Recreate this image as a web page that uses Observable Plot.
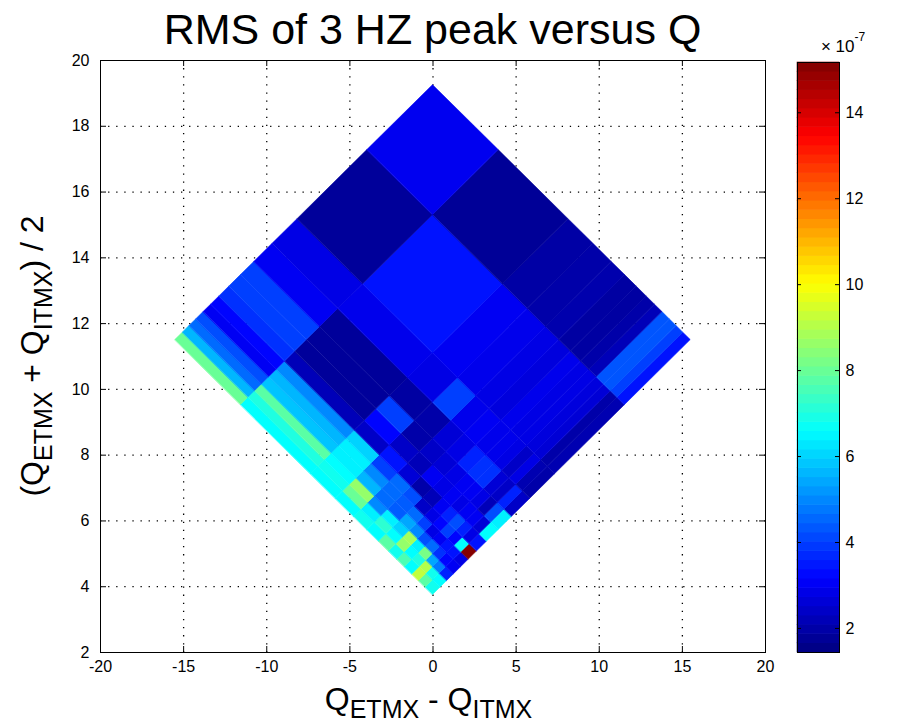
<!DOCTYPE html>
<html>
<head>
<meta charset="utf-8">
<script src="https://cdn.jsdelivr.net/npm/d3@7"></script>
<script src="https://cdn.jsdelivr.net/npm/@observablehq/plot@0.6"></script>
<style>
  body { margin: 0; background: #fff; }
  #chart { position: relative; width: 906px; height: 728px; font-family: "Liberation Sans", Arial, sans-serif; }
  #chart > svg { position: absolute; top: 0; }
</style>
</head>
<body>
<div id="chart"></div>
<script>
// Q grid edges (shared by ETMX and ITMX)
const qEdges = [3.75, 4.2, 4.6, 5.0, 5.45, 5.9, 6.4, 7.0, 7.7, 8.5, 9.6, 11.1, 15.3, 19.25];

// RMS of the 3 Hz peak (x 1e-7); one array per Q_ETMX bin, entries run over Q_ITMX bins
const rmsE00 = [6.8, 7.8, 9.2, 6.6, 7.6, 6.8, 7.8, 6.6, 6.8, 6.6, 6.6, 6.6, 8.0];
const rmsE01 = [6.6, 6.8, 9.0, 7.0, 6.6, 8.6, 6.6, 7.2, 6.4, 8.0, 6.8, 7.0, 5.6];
const rmsE02 = [3.6, 4.8, 5.4, 8.2, 6.4, 8.8, 6.0, 6.4, 5.0, 8.6, 6.6, 7.8, 4.6];
const rmsE03 = [3.0, 3.2, 3.8, 4.6, 4.2, 5.0, 5.4, 4.4, 4.6, 5.6, 6.4, 5.8, 4.2];
const rmsE04 = [2.8, 3.4, 3.4, 3.0, 2.8, 4.0, 4.6, 4.4, 4.6, 5.0, 6.4, 5.6, 3.0];
const rmsE05 = [15.1, 6.6, 3.2, 4.0, 3.2, 2.8, 2.4, 4.2, 4.6, 4.0, 6.0, 5.0, 3.2];
const rmsE06 = [3.4, 2.8, 3.6, 4.2, 3.6, 3.0, 2.2, 2.0, 2.6, 3.4, 2.4, 2.2, 3.8];
const rmsE07 = [6.6, 2.6, 3.0, 3.0, 2.8, 3.0, 2.8, 3.0, 2.2, 2.4, 3.2, 1.8, 4.0];
const rmsE08 = [6.4, 4.2, 2.2, 2.8, 3.0, 3.0, 2.8, 2.6, 2.4, 2.0, 4.0, 1.8, 4.0];
const rmsE09 = [2.4, 3.6, 2.4, 2.6, 3.8, 3.8, 3.6, 2.8, 2.6, 2.0, 1.9, 1.8, 3.0];
const rmsE10 = [2.0, 2.1, 2.8, 2.4, 2.8, 2.9, 2.9, 3.0, 2.9, 4.0, 2.8, 2.9, 2.8];
const rmsE11 = [2.1, 2.0, 2.6, 2.7, 2.8, 2.8, 2.9, 2.7, 2.8, 2.9, 3.0, 3.4, 1.8];
const rmsE12 = [3.4, 4.0, 4.3, 4.3, 2.2, 2.0, 1.9, 1.9, 2.05, 2.0, 1.95, 1.75, 2.95];
const rmsRows = [rmsE00, rmsE01, rmsE02, rmsE03, rmsE04, rmsE05, rmsE06,
                 rmsE07, rmsE08, rmsE09, rmsE10, rmsE11, rmsE12];

// axes and colour bar
const xTicks = [-20, -15, -10, -5, 0, 5, 10, 15, 20];
const yTicks = [2, 4, 6, 8, 10, 12, 14, 16, 18, 20];
const xGrid = [-15, -10, -5, 0, 5, 10, 15];
const yGrid = [4, 6, 8, 10, 12, 14, 16, 18];
const colorTicks = [2, 4, 6, 8, 10, 12, 14];
const colorDomain = [1.44, 15.17];
const colorLevels = 64;

// MATLAB-style jet colormap
function jet(t) {
  const c = v => Math.max(0, Math.min(1, v));
  const r = c(1.5 - Math.abs(4 * t - 3));
  const g = c(1.5 - Math.abs(4 * t - 2));
  const b = c(1.5 - Math.abs(4 * t - 1));
  return `rgb(${Math.round(r * 255)},${Math.round(g * 255)},${Math.round(b * 255)})`;
}
const colorScale = {type: "linear", domain: colorDomain, interpolate: jet, clamp: true};

// each (ETMX, ITMX) cell becomes a quadrilateral in (difference, mean) space;
// two area points per cell: top edge left->top, base edge bottom->right
const cellPts = [];
rmsRows.forEach((row, i) => row.forEach((v, j) => {
  const e0 = qEdges[i], e1 = qEdges[i + 1], t0 = qEdges[j], t1 = qEdges[j + 1];
  const id = i * 100 + j;
  cellPts.push({id, v, xTop: e0 - t1, yTop: (e0 + t1) / 2, xBase: e0 - t0, yBase: (e0 + t0) / 2});
  cellPts.push({id, v, xTop: e1 - t1, yTop: (e1 + t1) / 2, xBase: e1 - t0, yBase: (e1 + t0) / 2});
}));

const font = "'Liberation Sans', Arial, Helvetica, sans-serif";
const dotted = {stroke: "black", strokeWidth: 1.3, strokeDasharray: "1.3,6.8"};

const main = Plot.plot({
  width: 906, height: 728,
  marginLeft: 100, marginRight: 141, marginTop: 60, marginBottom: 76,
  style: {fontFamily: font, fontSize: "16px", color: "black", background: "white"},
  x: {domain: [-20, 20], label: null},
  y: {domain: [2, 20], label: null},
  color: colorScale,
  marks: [
    Plot.ruleX(xGrid, dotted),
    Plot.ruleY(yGrid, dotted),
    Plot.area(cellPts, {x1: "xBase", y1: "yBase", x2: "xTop", y2: "yTop", z: "id",
                        fill: "v", stroke: "v", strokeWidth: 0.6}),
    Plot.frame({stroke: "black", strokeWidth: 1}),
    Plot.tickX(xTicks, {stroke: "black", insetTop: 586}),
    Plot.tickX(xTicks, {stroke: "black", insetBottom: 586}),
    Plot.tickY(yTicks, {stroke: "black", insetRight: 659}),
    Plot.tickY(yTicks, {stroke: "black", insetLeft: 659}),
    Plot.axisX(xTicks, {tickSize: 0, tickPadding: 8, tickFormat: d => String(d), fontSize: 16}),
    Plot.axisY(yTicks, {tickSize: 0, tickPadding: 11, tickFormat: d => String(d), fontSize: 16})
  ]
});

const colorbar = Plot.plot({
  width: 126, height: 728,
  marginLeft: 17, marginRight: 67, marginTop: 62, marginBottom: 76,
  style: {fontFamily: font, fontSize: "16px", color: "black", background: "white"},
  x: {domain: [0, 1], axis: null},
  y: {domain: colorDomain, label: null},
  color: colorScale,
  marks: [
    Plot.rect(d3.range(colorLevels), {
      x1: 0, x2: 1,
      y1: k => colorDomain[0] + k * (colorDomain[1] - colorDomain[0]) / colorLevels,
      y2: k => colorDomain[0] + (k + 1) * (colorDomain[1] - colorDomain[0]) / colorLevels,
      fill: k => colorDomain[0] + (k + 0.5) * (colorDomain[1] - colorDomain[0]) / colorLevels,
      inset: -0.3
    }),
    Plot.frame({stroke: "black"}),
    Plot.tickY(colorTicks, {stroke: "black", insetRight: 38}),
    Plot.tickY(colorTicks, {stroke: "black", insetLeft: 38}),
    Plot.axisY(colorTicks, {anchor: "right", tickSize: 0, tickPadding: 6, tickFormat: d => String(d), fontSize: 16})
  ]
});

const chart = document.getElementById("chart");
main.style.left = "0px";
colorbar.style.left = "780px";
chart.append(main, colorbar);

// title and axis labels with subscripts
const svg = d3.select(main);
const xs = main.scale("x"), ys = main.scale("y");
const cx = (xs.apply(-20) + xs.apply(20)) / 2;
const cy = (ys.apply(2) + ys.apply(20)) / 2;

svg.append("text")
  .attr("x", cx).attr("y", 44)
  .attr("text-anchor", "middle")
  .attr("font-family", font).attr("font-size", 43)
  .text("RMS of 3 HZ peak versus Q");

const xl = svg.append("text")
  .attr("x", cx - 4).attr("y", 710)
  .attr("text-anchor", "middle")
  .attr("font-family", font);
xl.append("tspan").attr("font-size", 32).text("Q");
xl.append("tspan").attr("font-size", 25).attr("dy", 8).text("ETMX");
xl.append("tspan").attr("font-size", 32).attr("dy", -8).text(" - Q");
xl.append("tspan").attr("font-size", 25).attr("dy", 8).text("ITMX");

const yl = svg.append("text")
  .attr("transform", `translate(43,${cy}) rotate(-90)`)
  .attr("text-anchor", "middle")
  .attr("font-family", font);
yl.append("tspan").attr("font-size", 32).text("(Q");
yl.append("tspan").attr("font-size", 25).attr("dy", 9).text("ETMX");
yl.append("tspan").attr("font-size", 32).attr("dy", -9).text(" + Q");
yl.append("tspan").attr("font-size", 25).attr("dy", 9).text("ITMX");
yl.append("tspan").attr("font-size", 32).attr("dy", -9).text(") / 2");

// exponent of the colour bar
const ex = d3.select(colorbar).append("text")
  .attr("x", 63).attr("y", 52)
  .attr("font-family", font);
ex.append("tspan").attr("font-size", 17).text("\u00d7 10");
ex.append("tspan").attr("font-size", 12).attr("dy", -11).text("-7");
</script>
</body>
</html>
